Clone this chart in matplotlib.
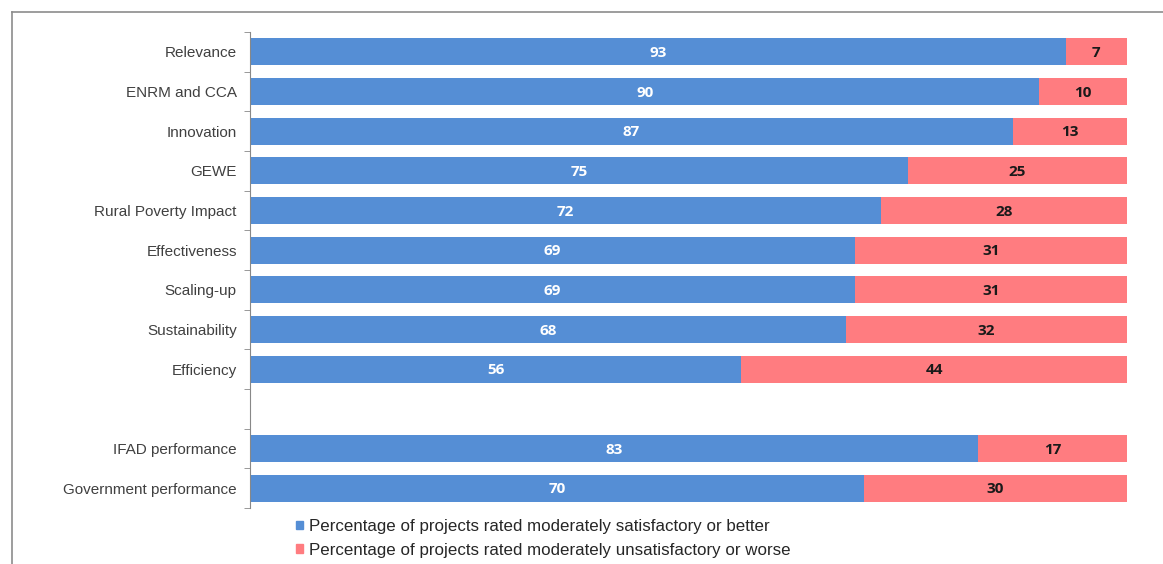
import numpy as np
import matplotlib
matplotlib.use("Agg")
import matplotlib.pyplot as plt
from matplotlib.lines import Line2D

# data (top to bottom), None = empty slot
labels = ["Relevance", "ENRM and CCA", "Innovation", "GEWE", "Rural Poverty Impact",
          "Effectiveness", "Scaling-up", "Sustainability", "Efficiency", None,
          "IFAD performance", "Government performance"]
satisfactory = [93, 90, 87, 75, 72, 69, 69, 68, 56, None, 83, 70]
unsatisfactory = [7, 10, 13, 25, 28, 31, 31, 32, 44, None, 17, 30]

blue = "#558ED5"
red = "#FF7C80"
label_font = "Liberation Sans"
value_font = "Open Sans"

fig = plt.figure(figsize=(11.63, 5.64), dpi=100)
ax = fig.add_axes([250 / 1163, 1 - 508 / 564, (1127 - 250) / 1163, (508 - 32) / 564])

n = len(labels)
ypos = np.arange(n)
for i, (lab, s, u) in enumerate(zip(labels, satisfactory, unsatisfactory)):
    if lab is None:
        continue
    ax.barh(ypos[i], s, height=0.68, color=blue, edgecolor="none")
    ax.barh(ypos[i], u, left=s, height=0.68, color=red, edgecolor="none")
    ax.text(s / 2, ypos[i] + 0.03, str(s), ha="center", va="center", color="white",
            fontsize=11, fontweight="bold", family=value_font)
    ax.text(s + u / 2, ypos[i] + 0.03, str(u), ha="center", va="center", color="#1a1a1a",
            fontsize=11, fontweight="bold", family=value_font)

ax.set_xlim(0, 100)
ax.set_ylim(n - 0.5, -0.5)
ax.set_yticks(ypos)
ax.set_yticklabels([l if l else "" for l in labels], family=label_font, fontsize=11,
                   color="#404040")
ax.tick_params(axis="y", which="major", length=0, pad=9.5)
ax.set_yticks(np.arange(n + 1) - 0.5, minor=True)
ax.tick_params(axis="y", which="minor", length=4, color="#888888", direction="out")
ax.set_xticks([])
for side in ["top", "right", "bottom"]:
    ax.spines[side].set_visible(False)
ax.spines["left"].set_color("#888888")
ax.spines["left"].set_linewidth(0.8)

# legend
handles = [plt.Rectangle((0, 0), 1, 1, color=blue), plt.Rectangle((0, 0), 1, 1, color=red)]
fig.legend(handles,
           ["Percentage of projects rated moderately satisfactory or better",
            "Percentage of projects rated moderately unsatisfactory or worse"],
           loc="upper left", bbox_to_anchor=(281 / 1163, 1 - 504 / 564), frameon=False,
           prop={"family": label_font, "size": 12.2}, handlelength=0.4, handleheight=0.4,
           handletextpad=0.35, labelspacing=0.5, labelcolor="#262626")

# outer frame (top and left edges)
fig.add_artist(Line2D([12 / 1163, 1], [1 - 12 / 564, 1 - 12 / 564], transform=fig.transFigure,
                      color="#8c8c8c", lw=1.2))
fig.add_artist(Line2D([12 / 1163, 12 / 1163], [0, 1 - 12 / 564], transform=fig.transFigure,
                      color="#8c8c8c", lw=1.2))

fig.savefig("out.png", dpi=100)
